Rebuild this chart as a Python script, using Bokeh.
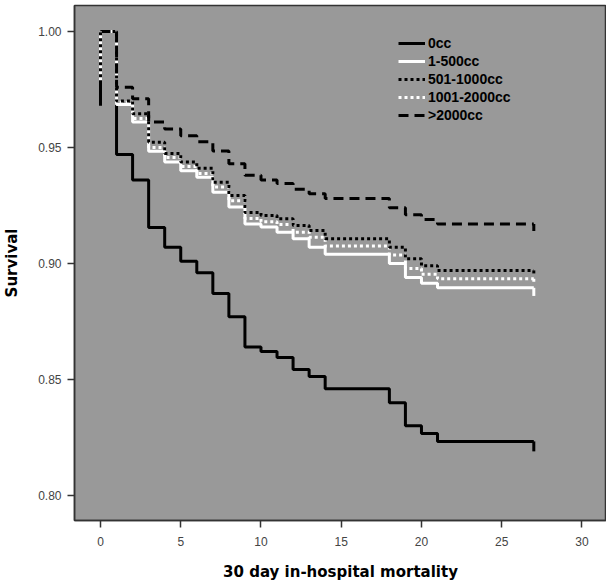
from bokeh.plotting import figure
from bokeh.models import Range1d, Legend, LegendItem, FixedTicker, NumeralTickFormatter
from bokeh.embed import file_html
from bokeh.resources import INLINE

# Data
times = [0, 1, 2, 3, 4, 5, 6, 7, 8, 9, 10, 11, 12, 13, 14, 18, 19, 20, 21, 27]
surv_0cc = [1.0, 0.947, 0.936, 0.9155, 0.907, 0.901, 0.896, 0.887, 0.877, 0.864, 0.862,
            0.8595, 0.8543, 0.8513, 0.846, 0.840, 0.830, 0.8267, 0.8233, 0.8233]
surv_1_500 = [1.0, 0.9685, 0.961, 0.9484, 0.9437, 0.940, 0.9372, 0.9307, 0.9243, 0.917, 0.9157,
              0.9135, 0.9106, 0.907, 0.904, 0.900, 0.894, 0.8915, 0.8895, 0.8895]
surv_501_1000 = [1.0, 0.970, 0.9645, 0.9523, 0.9474, 0.9437, 0.941, 0.935, 0.9293, 0.922, 0.9207,
                 0.9193, 0.9164, 0.9142, 0.9106, 0.907, 0.902, 0.899, 0.897, 0.897]
surv_1001_2000 = [1.0, 0.9695, 0.9625, 0.950, 0.9457, 0.9418, 0.9388, 0.933, 0.927, 0.9194, 0.918,
                  0.9168, 0.9135, 0.9113, 0.9075, 0.9037, 0.8978, 0.8953, 0.8934, 0.8934]
surv_2000 = [1.0, 0.976, 0.971, 0.961, 0.958, 0.955, 0.9525, 0.9485, 0.943, 0.938, 0.936,
             0.9345, 0.932, 0.930, 0.928, 0.924, 0.921, 0.919, 0.917, 0.917]
censor_time = 27
censor_low = {"0cc": 0.819, "1-500cc": 0.886, "501-1000cc": 0.8945,
              "1001-2000cc": 0.891, ">2000cc": 0.914}
start_low_0cc = 0.968
labels = ["0cc", "1-500cc", "501-1000cc", "1001-2000cc", ">2000cc"]
x_ticks = [0, 5, 10, 15, 20, 25, 30]
y_ticks = [0.80, 0.85, 0.90, 0.95, 1.00]

p = figure(width=606, height=583, output_backend="svg", toolbar_location=None,
           x_range=Range1d(-1.62, 31.53), y_range=Range1d(0.7892, 1.0112),
           min_border_left=74, min_border_right=0, min_border_top=5, min_border_bottom=63)
p.background_fill_color = "#999999"
p.border_fill_color = "white"
p.outline_line_color = "#333333"
p.outline_line_width = 1.5
p.grid.visible = False

series = [
    ("0cc", surv_0cc, dict(line_color="black", line_width=3)),
    ("1-500cc", surv_1_500, dict(line_color="white", line_width=3)),
    ("1001-2000cc", surv_1001_2000, dict(line_color="white", line_width=3, line_dash="3 3")),
    ("501-1000cc", surv_501_1000, dict(line_color="black", line_width=3, line_dash="3 3")),
    (">2000cc", surv_2000, dict(line_color="black", line_width=3, line_dash="10 6")),
]

renderers = {}
for name, s, style in series:
    r = p.step(times, s, mode="after", line_cap="butt", **style)
    renderers[name] = r
    p.segment(x0=[censor_time], y0=[s[-1]], x1=[censor_time], y1=[censor_low[name]],
              line_cap="butt", **style)

# initial vertical segment at time 0
p.segment(x0=[times[0]], y0=[start_low_0cc], x1=[times[0]], y1=[surv_0cc[0]],
          line_color="black", line_width=3)
p.segment(x0=[times[0]], y0=[0.979], x1=[times[0]], y1=[surv_1001_2000[0]],
          line_color="white", line_width=3, line_dash="3 3", line_cap="butt")

legend = Legend(items=[LegendItem(label=n, renderers=[renderers[n]]) for n in labels],
                location=(324, 397), background_fill_alpha=0, border_line_alpha=0,
                padding=0, margin=0, spacing=2, glyph_width=27, glyph_height=16,
                label_height=16, label_standoff=3,
                label_text_font="Liberation Sans", label_text_font_style="bold",
                label_text_font_size="14px", label_text_color="black")
p.add_layout(legend, "center")

p.xaxis.ticker = FixedTicker(ticks=x_ticks)
p.yaxis.ticker = FixedTicker(ticks=y_ticks)
p.yaxis.formatter = NumeralTickFormatter(format="0.00")
for ax in (p.xaxis, p.yaxis):
    ax.axis_line_color = "#333333"
    ax.axis_line_width = 1.5
    ax.major_tick_line_color = "#333333"
    ax.major_tick_line_width = 1.5
    ax.major_tick_out = 7
    ax.major_tick_in = 0
    ax.minor_tick_line_color = None
    ax.major_label_text_font = "Liberation Sans"
    ax.major_label_text_font_size = "12px"
    ax.major_label_text_color = "#444444"
    ax.axis_label_text_font = "DejaVu Sans"
    ax.axis_label_text_font_style = "bold"
    ax.axis_label_text_font_size = "15px"
    ax.axis_label_text_color = "black"
p.xaxis.axis_label = "30 day in-hospital mortality"
p.yaxis.axis_label = "Survival"
p.xaxis.major_label_standoff = 9
p.yaxis.major_label_standoff = 6
p.xaxis.axis_label_standoff = 14
p.yaxis.axis_label_standoff = 14

open("out.html", "w").write(file_html(p, INLINE))
